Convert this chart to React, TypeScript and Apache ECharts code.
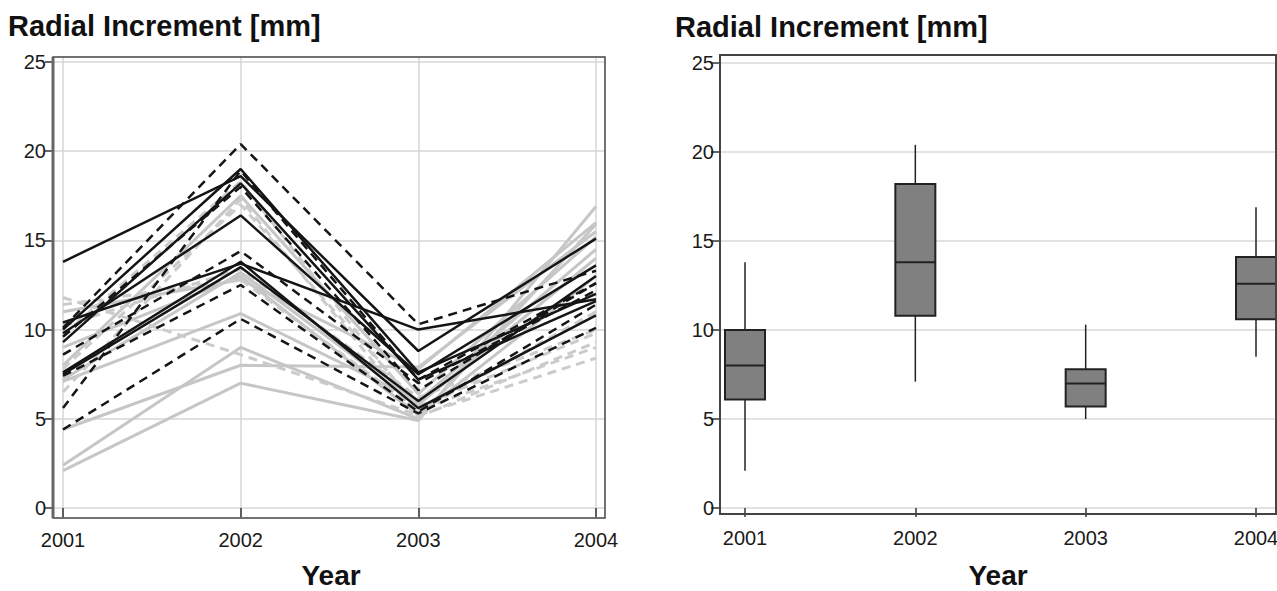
import React, { useEffect, useRef } from "react";
import * as echarts from "echarts";

const years = [2001, 2002, 2003, 2004];
const yTicks = [0, 5, 10, 15, 20, 25];
const titleText = "Radial Increment [mm]";
const xName = "Year";

// Individual trees (values per year 2001..2004)
const blackSolid1 = [13.8, 18.6, 8.8, 15.1];
const blackSolid2 = [10.4, 13.7, 10.0, 11.7];
const blackSolid3 = [9.8, 16.4, 7.5, 13.6];
const blackSolid4 = [7.6, 13.8, 5.6, 10.8];
const blackSolid5 = [9.3, 18.2, 7.2, 11.6];
const blackSolid6 = [7.5, 13.5, 6.0, 13.0];
const blackSolid7 = [10.0, 19.0, 7.6, 12.0];

const blackDashed1 = [10.1, 20.4, 10.3, 13.3];
const blackDashed2 = [5.6, 18.9, 7.2, 12.6];
const blackDashed3 = [8.6, 14.4, 7.0, 12.2];
const blackDashed4 = [4.4, 10.6, 5.3, 10.1];
const blackDashed5 = [7.4, 12.5, 5.4, 11.4];
const blackDashed6 = [9.6, 18.0, 6.6, 12.6];

const graySolid1 = [2.1, 7.0, 4.9, 16.9];
const graySolid2 = [2.4, 9.0, 5.0, 15.9];
const graySolid3 = [4.4, 8.0, 7.9, 15.5];
const graySolid4 = [7.1, 10.9, 6.0, 14.5];
const graySolid5 = [7.2, 13.2, 5.8, 14.0];
const graySolid6 = [11.0, 12.8, 7.8, 16.0];
const graySolid7 = [8.0, 17.5, 6.4, 15.2];
const graySolid8 = [9.0, 13.0, 5.2, 13.0];

const grayDashed1 = [11.8, 8.6, 5.2, 8.4];
const grayDashed2 = [11.4, 12.8, 5.5, 9.0];
const grayDashed3 = [6.5, 17.3, 5.1, 9.3];
const grayDashed4 = [7.8, 17.0, 5.7, 9.8];
const grayDashed5 = [10.2, 13.4, 6.2, 10.0];
const grayDashed6 = [9.7, 18.3, 5.4, 11.0];

const blackSolid = [blackSolid1, blackSolid2, blackSolid3, blackSolid4, blackSolid5, blackSolid6, blackSolid7];
const blackDashed = [blackDashed1, blackDashed2, blackDashed3, blackDashed4, blackDashed5, blackDashed6];
const graySolid = [graySolid1, graySolid2, graySolid3, graySolid4, graySolid5, graySolid6, graySolid7, graySolid8];
const grayDashed = [grayDashed1, grayDashed2, grayDashed3, grayDashed4, grayDashed5, grayDashed6];

// Box plot statistics
const boxMin = [2.1, 7.1, 5.0, 8.5];
const boxQ1 = [6.1, 10.8, 5.7, 10.6];
const boxMedian = [8.0, 13.8, 7.0, 12.6];
const boxQ3 = [10.0, 18.2, 7.8, 14.1];
const boxMax = [13.8, 20.4, 10.3, 16.9];

const TICK_FONT = "'Liberation Sans Narrow', 'Liberation Sans', Arial, sans-serif";
const BOLD_FONT = "'Liberation Sans', Arial, sans-serif";

export default function App() {
  const ref = useRef<HTMLDivElement>(null);

  useEffect(() => {
    if (!ref.current) return;
    const chart = echarts.init(ref.current, undefined, { renderer: "svg" });

    const lineSeries = (vals: number[], color: string, dashed: boolean, width: number) => ({
      type: "line",
      xAxisIndex: 0,
      yAxisIndex: 0,
      data: years.map((y, i) => [y, vals[i]]),
      symbol: "none",
      lineStyle: { color, width, type: dashed ? [9, 6] : "solid" },
      silent: true,
    });

    const series: any[] = [];
    graySolid.forEach((v) => series.push(lineSeries(v, "#c6c6c6", false, 3)));
    grayDashed.forEach((v) => series.push(lineSeries(v, "#cbcbcb", true, 3)));
    blackSolid.forEach((v) => series.push(lineSeries(v, "#151515", false, 2.5)));
    blackDashed.forEach((v) => series.push(lineSeries(v, "#151515", true, 2.5)));

    series.push({
      type: "custom",
      xAxisIndex: 1,
      yAxisIndex: 1,
      data: years.map((y, i) => [y, boxMin[i], boxQ1[i], boxMedian[i], boxQ3[i], boxMax[i]]),
      encode: { x: 0, y: [1, 2, 3, 4, 5] },
      renderItem: (params: any, api: any) => {
        const x = api.value(0);
        const pMin = api.coord([x, api.value(1)]);
        const pQ1 = api.coord([x, api.value(2)]);
        const pMed = api.coord([x, api.value(3)]);
        const pQ3 = api.coord([x, api.value(4)]);
        const pMax = api.coord([x, api.value(5)]);
        const hw = 20;
        const stroke = "#222";
        return {
          type: "group",
          children: [
            { type: "line", shape: { x1: pMax[0], y1: pMax[1], x2: pQ3[0], y2: pQ3[1] }, style: { stroke, lineWidth: 1.5 } },
            { type: "line", shape: { x1: pMin[0], y1: pMin[1], x2: pQ1[0], y2: pQ1[1] }, style: { stroke, lineWidth: 1.5 } },
            {
              type: "rect",
              shape: { x: pQ3[0] - hw, y: pQ3[1], width: 2 * hw, height: pQ1[1] - pQ3[1] },
              style: { fill: "#808080", stroke, lineWidth: 2 },
            },
            { type: "line", shape: { x1: pMed[0] - hw, y1: pMed[1], x2: pMed[0] + hw, y2: pMed[1] }, style: { stroke, lineWidth: 2 } },
          ],
        };
      },
    });

    const tickLabel = { fontFamily: TICK_FONT, fontSize: 20, color: "#1a1a1a" };
    const tickLine = { color: "#333", width: 1.5 };

    chart.setOption({
      animation: false,
      grid: [
        { left: 53, top: 57, width: 552, height: 461, outerBoundsMode: "none", containLabel: false },
        { left: 720, top: 55, width: 556, height: 459, outerBoundsMode: "none", containLabel: false },
      ],
      xAxis: [
        {
          type: "value",
          gridIndex: 0,
          min: 2000.9437,
          max: 2004.0507,
          axisLine: { show: false },
          axisTick: { show: true, length: 9, lineStyle: tickLine, customValues: years },
          axisLabel: { ...tickLabel, margin: 12, customValues: years, formatter: (v: number) => String(Math.round(v)) },
          splitLine: { show: true, lineStyle: { color: "#d6d6d6", width: 1.5 } },
        },
        {
          type: "value",
          gridIndex: 1,
          min: 2000.8532,
          max: 2004.1174,
          axisLine: { show: false },
          axisTick: { show: true, length: 9, lineStyle: tickLine, customValues: years },
          axisLabel: { ...tickLabel, margin: 14, customValues: years, formatter: (v: number) => String(Math.round(v)) },
          splitLine: { show: false },
        },
      ],
      yAxis: [
        {
          type: "value",
          gridIndex: 0,
          min: -0.56,
          max: 25.28,
          axisLine: { show: false },
          axisTick: { show: true, length: 8, lineStyle: tickLine, customValues: yTicks },
          axisLabel: { ...tickLabel, margin: 7, customValues: yTicks },
          splitLine: { show: true, lineStyle: { color: "#d6d6d6", width: 1.5 } },
        },
        {
          type: "value",
          gridIndex: 1,
          min: -0.336,
          max: 25.448,
          axisLine: { show: false },
          axisTick: { show: true, length: 9, lineStyle: tickLine, customValues: yTicks },
          axisLabel: { ...tickLabel, margin: 6, customValues: yTicks },
          splitLine: { show: true, lineStyle: { color: "#d9d9d9", width: 1.5 } },
        },
      ],
      graphic: [
        { type: "rect", shape: { x: 53, y: 57, width: 552, height: 461 }, style: { fill: "none", stroke: "#444", lineWidth: 1.5 }, z: 100, silent: true },
        { type: "line", shape: { x1: 53, y1: 57, x2: 53, y2: 518 }, style: { stroke: "#666", lineWidth: 3 }, z: 100, silent: true },
        { type: "rect", shape: { x: 720, y: 55, width: 556, height: 459 }, style: { fill: "none", stroke: "#444", lineWidth: 2 }, z: 100, silent: true },
        { type: "text", left: 8, top: 11, style: { text: titleText, font: `bold 29px ${BOLD_FONT}`, fill: "#111" } },
        { type: "text", left: 675, top: 12, style: { text: titleText, font: `bold 29px ${BOLD_FONT}`, fill: "#111" } },
        { type: "text", x: 331, y: 575, style: { text: xName, font: `bold 28px ${BOLD_FONT}`, fill: "#111", align: "center", verticalAlign: "middle" } },
        { type: "text", x: 998, y: 575, style: { text: xName, font: `bold 28px ${BOLD_FONT}`, fill: "#111", align: "center", verticalAlign: "middle" } },
      ],
      series,
    });

    return () => chart.dispose();
  }, []);

  return <div ref={ref} style={{ position: "fixed", left: 0, top: 0, width: 1277, height: 591, background: "#fff" }} />;
}
